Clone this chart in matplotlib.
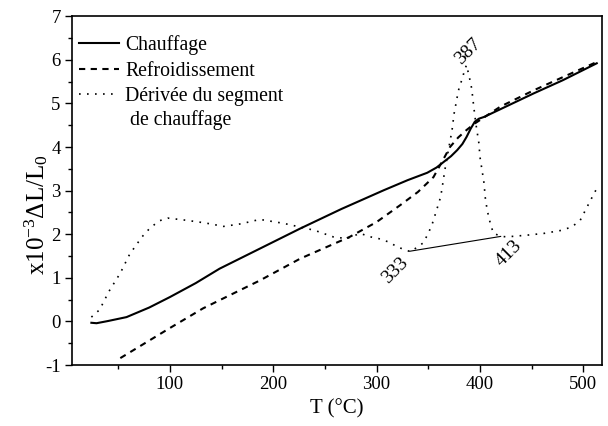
import matplotlib
matplotlib.use("Agg")
import matplotlib.pyplot as plt
from matplotlib.ticker import MultipleLocator

plt.rcParams['font.family'] = ['Liberation Serif', 'DejaVu Serif']
plt.rcParams['mathtext.default'] = 'regular'
plt.rcParams['axes.unicode_minus'] = False

# Chauffage (heating)
heat_T = [24, 29, 40, 58, 80, 100, 125, 148, 187, 226, 266, 307, 330, 349, 358, 365, 372,
          378, 383, 387, 391, 395, 399, 404, 420, 452, 480, 513]
heat_y = [-0.03, -0.04, 0.01, 0.10, 0.32, 0.56, 0.88, 1.21, 1.67, 2.13, 2.58, 3.01, 3.24,
          3.41, 3.53, 3.66, 3.79, 3.93, 4.07, 4.23, 4.42, 4.58, 4.65, 4.69, 4.87, 5.23,
          5.53, 5.92]

# Refroidissement (cooling)
cool_T = [52, 100, 132, 150, 187, 226, 274, 300, 323, 340, 355, 363, 371, 379, 387, 395,
          420, 452, 480, 513]
cool_y = [-0.84, -0.15, 0.30, 0.51, 0.94, 1.44, 1.94, 2.28, 2.67, 2.97, 3.31, 3.65, 4.00,
          4.22, 4.39, 4.54, 4.93, 5.30, 5.60, 5.95]

# Derivee du segment de chauffage
der_T = [24, 32, 41, 52, 61, 73, 81, 90, 98, 116, 134, 152, 169, 187, 210, 240, 258, 271,
         284, 294, 302, 312, 320, 329, 333, 345, 350, 354, 358, 362, 364, 366, 370, 373, 375,
         378, 380, 383, 385, 387, 390, 392, 394, 396, 399, 400, 402, 404, 405, 407, 410, 413,
         421, 426, 446, 462, 479, 489, 497, 502, 507, 513]
der_y = [0.10, 0.27, 0.69, 1.11, 1.54, 1.94, 2.15, 2.31, 2.37, 2.32, 2.26, 2.18, 2.24, 2.34,
         2.25, 2.09, 1.94, 1.90, 2.02, 1.94, 1.90, 1.82, 1.71, 1.63, 1.60, 1.80, 2.02, 2.25,
         2.55, 2.86, 3.16, 3.47, 4.00, 4.39, 4.77, 5.15, 5.38, 5.57, 5.76, 5.88, 5.57, 5.34,
         4.92, 4.54, 4.08, 3.77, 3.47, 3.16, 2.86, 2.55, 2.25, 2.02, 1.95, 1.94, 1.98, 2.02,
         2.09, 2.17, 2.32, 2.55, 2.78, 3.05]

legend_labels = ['Chauffage', 'Refroidissement', 'Dérivée du segment']
legend_extra = ' de chauffage'

ann_T = [332, 420]
ann_y = [1.61, 1.95]
ann_labels = ['333', '413', '387']
ann_label_pos = [(318, 1.17), (428, 1.56), (389, 6.20)]

fig = plt.figure(figsize=(6.08, 4.26), dpi=100)
ax = fig.add_axes([0.118, 0.143, 0.872, 0.819])

ax.plot(heat_T, heat_y, color='black', lw=1.5, ls='-', label=legend_labels[0])
ax.plot(cool_T, cool_y, color='black', lw=1.5, ls=(0, (3, 2.6)), label=legend_labels[1])
ax.plot(der_T, der_y, color='black', lw=1.2, ls=(0, (1, 3.8)), label=legend_labels[2])
ax.plot(ann_T, ann_y, color='black', lw=0.8)
for lab, (tx, ty) in zip(ann_labels, ann_label_pos):
    ax.text(tx, ty, lab, rotation=45, ha='center', va='center', fontsize=14)

ax.set_xlim(5, 518)
ax.set_ylim(-1, 7)
ax.xaxis.set_major_locator(MultipleLocator(100))
ax.xaxis.set_minor_locator(MultipleLocator(50))
ax.yaxis.set_major_locator(MultipleLocator(1))
ax.yaxis.set_minor_locator(MultipleLocator(0.5))
ax.tick_params(which='major', direction='out', length=5, width=1, labelsize=13.5, pad=3)
ax.tick_params(which='minor', direction='out', length=3, width=1)
for s in ax.spines.values():
    s.set_linewidth(1.2)

ax.set_xlabel('T (°C)', fontsize=15, labelpad=4)
fig.text(36 / 608, 1 - 215 / 426, r'x10$^{-3}$ΔL/L$_{0}$', fontsize=18,
         rotation=90, ha='center', va='center')

leg = ax.legend(loc='upper left', frameon=False, fontsize=14.2, handlelength=2.05,
                handletextpad=0.3, labelspacing=0.32, borderaxespad=0.0,
                borderpad=0.0, bbox_to_anchor=(0.013, 0.945))

fig.canvas.draw()
bb = leg.get_texts()[2].get_window_extent()
W, H = fig.bbox.width, fig.bbox.height
fig.text(bb.x0 / W, (bb.y0 - 24) / H, legend_extra, fontsize=14.2,
         ha='left', va='bottom')

fig.savefig('out.png', dpi=100)
